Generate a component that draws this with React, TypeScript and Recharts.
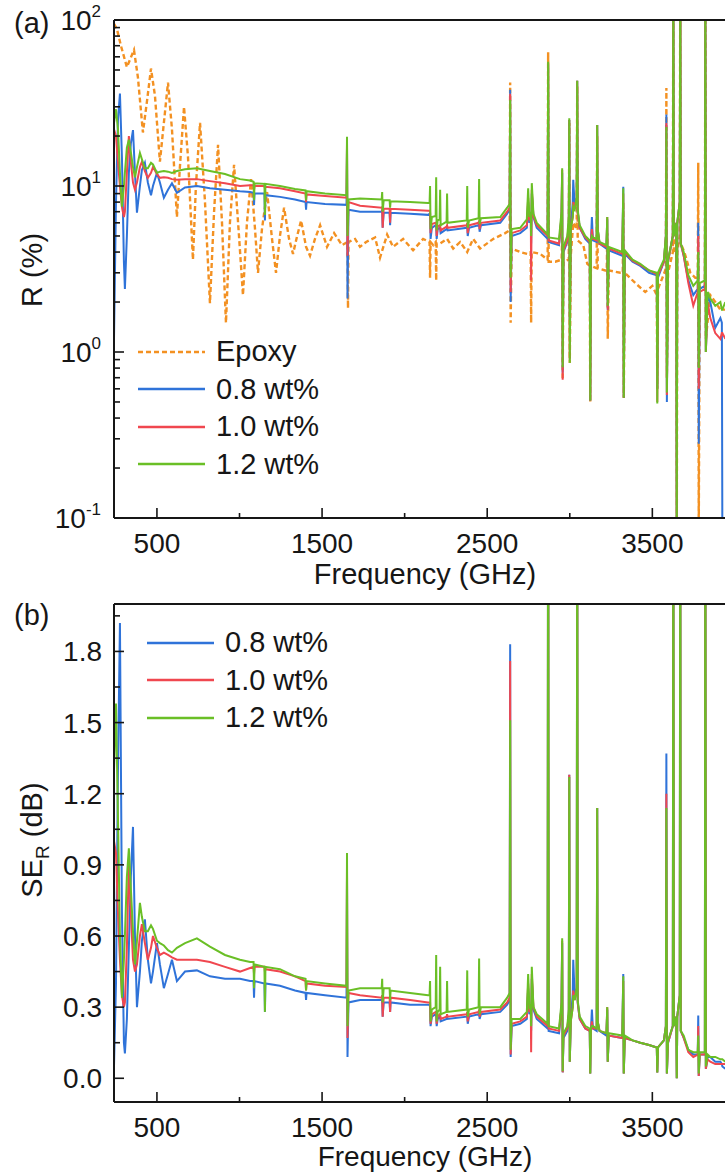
import { LineChart, Line, XAxis, YAxis, ReferenceLine, Legend } from 'recharts'

// Two stacked THz spectra: (a) reflectance R on a log axis, (b) SE_R in dB.
// The composites share one frequency grid,
// the epoxy trace has its own.

const INK = '#161616'
const FONT = '"Liberation Sans", Arial, Helvetica, sans-serif'
const ORANGE = '#f39122'
const BLUE = '#2f73d9'
const RED = '#f0474f'
const GREEN = '#6abf26'

const FREQ_DOMAIN: [number, number] = [240, 3940]
const freqTicks = [500, 1000, 1500, 2000, 2500, 3000, 3500]
const freqLabelled = [500, 1500, 2500, 3500]

const rTicks = [
  0.1, 0.2, 0.3, 0.4, 0.5, 0.6, 0.7, 0.8, 0.9,
  1, 2, 3, 4, 5, 6, 7, 8, 9,
  10, 20, 30, 40, 50, 60, 70, 80, 90, 100,
]
const rMajor = [0.1, 1, 10, 100]
const rExponents = ['-1', '0', '1', '2']

const seTicks = [0, 0.15, 0.3, 0.45, 0.6, 0.75, 0.9, 1.05, 1.2, 1.35, 1.5, 1.65, 1.8, 1.95]
const seMajor = [0, 0.3, 0.6, 0.9, 1.2, 1.5, 1.8]
const seLabels = ['0.0', '0.3', '0.6', '0.9', '1.2', '1.5', '1.8']

const seriesNames = ['Epoxy', '0.8 wt%', '1.0 wt%', '1.2 wt%']

// epoxy reflectance (%)
const epoxyFreq = [
  240, 258, 282, 318, 361, 385, 415, 439, 464, 488,
  518, 542, 567, 591, 621, 639, 664, 688, 718, 736,
  761, 791, 821, 846, 870, 894, 918, 942, 967, 997,
  1021, 1045, 1070, 1094, 1112, 1136, 1167, 1197, 1221, 1245,
  1270, 1300, 1324, 1349, 1373, 1403, 1427, 1457, 1488, 1530,
  1573, 1621, 1654, 1657, 1660, 1700, 1730, 1767, 1821, 1851,
  1894, 1930, 1991, 2051, 2112, 2151, 2154, 2157, 2173, 2188,
  2191, 2194, 2215, 2257, 2294, 2336, 2379, 2415, 2457, 2536,
  2609, 2636, 2639, 2642, 2648, 2700, 2742, 2763, 2766, 2769,
  2821, 2866, 2869, 2872, 2912, 2951, 2954, 2957, 2962, 2994,
  2997, 3000, 3006, 3021, 3042, 3045, 3048, 3082, 3106, 3121,
  3124, 3128, 3163, 3166, 3169, 3215, 3224, 3227, 3230, 3236,
  3306, 3321, 3324, 3327, 3333, 3397, 3457, 3500, 3527, 3530,
  3534, 3573, 3582, 3585, 3588, 3595, 3624, 3627, 3630, 3645,
  3648, 3651, 3666, 3669, 3672, 3694, 3730, 3760, 3775, 3778,
  3781, 3787, 3818, 3821, 3824, 3851, 3881, 3912, 3942,
]
const epoxyR = [
  95, 88, 70, 52, 66, 45, 21, 32, 51, 35,
  14, 24, 42, 22, 6.5, 13, 30, 15, 3.6, 10,
  24, 8, 1.97, 7, 17.7, 6, 1.5, 6, 13.4, 5,
  2.2, 6, 11, 5.5, 3.0, 5.5, 9.2, 4.8, 3.0, 5,
  7.4, 4.8, 3.9, 5, 6.2, 4.3, 3.8, 4.8, 5.8, 4.3,
  5.2, 4.4, 4.6, 1.84, 4.6, 4.8, 4.3, 4.6, 4.9, 3.7,
  5.1, 4.3, 4.8, 4.1, 4.8, 4.6, 2.8, 4.6, 4.4, 4.6,
  2.7, 4.5, 4.5, 4.8, 4.2, 4.6, 4.0, 4.8, 4.2, 4.8,
  5.2, 5.4, 42, 1.5, 4.2, 4.0, 3.9, 4.0, 1.5, 4.0,
  3.9, 3.6, 64, 3.5, 3.5, 3.6, 5, 0.68, 3.5, 3.6,
  24, 0.86, 3.8, 6, 5.5, 40, 4.7, 4.4, 3.4, 3.3,
  0.5, 3.3, 3.2, 20, 3.2, 3.1, 3.1, 5.2, 1.2, 3.1,
  3.0, 3.0, 8, 0.53, 3.0, 2.6, 2.3, 2.5, 2.2, 0.6,
  2.4, 3, 3.2, 39, 0.7, 3, 4, 150, 4, 4,
  0.08, 4, 5, 150, 4.5, 4.0, 3.0, 2.8, 2.8, 13.8,
  0.08, 2.5, 2.5, 110, 1.2, 2.2, 2.0, 1.8, 1.8,
]

// composite grid (GHz)
const compFreq = [
  240, 252, 264, 276, 288, 300, 306, 318, 330, 342,
  355, 367, 379, 397, 409, 427, 445, 464, 476, 500,
  518, 542, 567, 591, 621, 670, 742, 821, 912, 1003,
  1064, 1085, 1088, 1091, 1151, 1154, 1157, 1245, 1336, 1400,
  1403, 1406, 1518, 1648, 1651, 1654, 1660, 1730, 1861, 1864,
  1867, 1873, 1909, 1912, 1915, 2033, 2142, 2151, 2154, 2157,
  2165, 2188, 2191, 2194, 2200, 2212, 2215, 2218, 2254, 2257,
  2260, 2376, 2379, 2382, 2390, 2448, 2451, 2454, 2462, 2579,
  2621, 2636, 2639, 2642, 2648, 2700, 2740, 2748, 2755, 2764,
  2766, 2770, 2780, 2800, 2866, 2869, 2872, 2935, 2950, 2954,
  2957, 2962, 2985, 2994, 2997, 3000, 3006, 3018, 3021, 3030,
  3042, 3045, 3048, 3060, 3094, 3121, 3124, 3128, 3134, 3140,
  3163, 3166, 3169, 3180, 3222, 3227, 3230, 3236, 3318, 3324,
  3327, 3333, 3380, 3427, 3480, 3527, 3530, 3534, 3570, 3582,
  3585, 3588, 3595, 3624, 3627, 3630, 3645, 3648, 3651, 3666,
  3669, 3672, 3690, 3718, 3748, 3775, 3778, 3781, 3787, 3818,
  3821, 3824, 3835, 3851, 3881, 3912, 3921, 3924, 3942,
]

// R (%)
const r08 = [
  1.2, 8, 25, 36, 15, 3.5, 2.4, 5, 12, 18,
  21.7, 12, 6.9, 10, 12.5, 13.8, 10.5, 8.8, 10, 12,
  10.5, 8.5, 9.5, 10.4, 9.1, 9.8, 10, 9.7, 9.5, 9.3,
  9.2, 9.1, 7.7, 9.0, 9.0, 6.2, 8.8, 8.6, 8.3, 8.0,
  7.2, 8.0, 7.8, 7.7, 17, 2.1, 7.2, 7.0, 7.0, 7.2,
  5.6, 6.9, 6.9, 5.8, 6.9, 6.8, 6.7, 6.8, 6.8, 4.8,
  5.6, 5.8, 5.8, 4.8, 5.5, 5.6, 5.6, 5.2, 5.5, 5.6,
  5.4, 5.6, 5.8, 5.0, 5.6, 5.8, 6.0, 5.3, 5.8, 6.0,
  6.8, 7.2, 38, 2.0, 5.0, 5.2, 5.6, 8.0, 6.0, 6.5,
  4.5, 9.0, 6.5, 5.6, 4.8, 54, 4.6, 4.4, 6.5, 12,
  0.75, 4.0, 4.6, 6, 25, 1.56, 5.5, 8, 10.9, 7.5,
  8.5, 43, 7, 5.6, 4.8, 4.5, 0.51, 4.6, 6.5, 4.7,
  4.6, 23.3, 5.5, 4.5, 4.2, 6.3, 1.8, 4.1, 3.8, 9.9,
  0.53, 3.9, 3.5, 3.3, 3.0, 2.9, 0.6, 2.8, 3.5, 5,
  27, 0.5, 3.5, 5, 150, 5, 6, 0.08, 6, 8,
  150, 4.5, 3.8, 2.7, 2.2, 2.4, 6, 0.28, 2.4, 2.5,
  150, 1.0, 2.2, 2.0, 1.4, 1.6, 1.5, 0.08, 0.08,
]
const r10 = [
  22, 20, 14, 10, 7.5, 6.5, 7, 12, 20, 14,
  10.5, 9.5, 10.5, 13, 14, 12.3, 11.2, 12, 13, 11.8,
  11.2, 11.3, 11.2, 11.0, 10.9, 11.0, 11.0, 10.7, 10.4, 10.0,
  10.1, 10.1, 9.5, 10.0, 10.0, 9.7, 9.9, 9.7, 9.3, 9.0,
  8.0, 8.9, 8.7, 8.5, 18, 3.8, 8.0, 7.6, 7.4, 7.5,
  5.6, 7.3, 7.3, 6.0, 7.3, 7.2, 7.1, 7.1, 7.0, 5.2,
  5.9, 6.0, 6.0, 5.0, 5.7, 5.8, 5.8, 5.4, 5.7, 5.8,
  5.6, 5.8, 6.0, 5.2, 5.8, 6.0, 6.2, 5.5, 6.0, 6.2,
  7.0, 7.4, 36, 2.3, 5.2, 5.4, 5.8, 8.5, 6.2, 6.8,
  2.7, 9.5, 6.6, 5.8, 5.0, 55, 4.7, 4.5, 6.6, 12.5,
  0.68, 4.1, 4.7, 6, 25, 0.9, 5.5, 6.5, 8, 7.3,
  8.5, 43, 7, 5.6, 4.9, 4.6, 0.51, 4.6, 5.5, 4.8,
  4.7, 23.3, 5.5, 4.5, 4.3, 6.5, 1.8, 4.2, 3.9, 9.0,
  0.53, 4.0, 3.55, 3.35, 3.1, 2.95, 0.5, 2.9, 3.5, 5,
  24, 0.55, 3.5, 5, 150, 5, 6, 0.08, 6, 8,
  150, 4.5, 3.8, 2.6, 1.9, 2.3, 5, 0.6, 2.3, 2.4,
  150, 1.0, 2.0, 1.6, 1.3, 1.2, 1.3, 1.3, 1.2,
]
const r12 = [
  24, 29, 22, 12, 7.5, 10, 12, 17, 19, 16,
  13, 11.3, 13, 15.8, 14.5, 12.8, 12.8, 13.8, 13.5, 12,
  12.2, 12.3, 12.2, 12.0, 12.3, 12.6, 12.8, 12.3, 11.8, 11.0,
  10.8, 10.6, 8.2, 10.4, 10.3, 6.7, 10.3, 10.0, 9.6, 9.4,
  8.2, 9.3, 9.0, 8.8, 19.8, 5.0, 8.3, 8.4, 8.3, 9.2,
  7.0, 8.2, 8.2, 7.4, 8.1, 8.0, 7.9, 7.9, 10.0, 5.5,
  6.5, 6.6, 11.3, 5.4, 6.2, 6.3, 9.5, 5.8, 6.1, 9.0,
  6.0, 6.2, 10.0, 5.6, 6.2, 6.4, 11.0, 5.9, 6.4, 6.5,
  7.4, 7.8, 33, 2.8, 5.5, 5.6, 6.3, 9.7, 6.5, 7.0,
  5.0, 10.4, 6.8, 6.0, 5.1, 56, 4.9, 4.8, 7.0, 12.8,
  0.81, 4.3, 5.0, 6.5, 25.6, 0.86, 5.5, 6.5, 7.5, 7.2,
  8.5, 43, 7.2, 5.8, 5.0, 4.7, 0.51, 4.7, 5.0, 4.9,
  4.8, 23.3, 5.5, 4.6, 4.4, 6.5, 1.9, 4.3, 4.0, 9.7,
  0.53, 4.1, 3.6, 3.4, 3.1, 3.0, 0.49, 3.0, 3.6, 5,
  22.7, 0.57, 3.6, 5, 150, 5, 6, 0.08, 6, 8,
  150, 4.5, 4.0, 2.9, 2.5, 2.7, 4, 0.8, 2.6, 2.7,
  150, 1.0, 2.3, 2.1, 1.9, 2.0, 1.8, 1.8, 2.0,
]

// SE_R (dB)
const se08 = [
  0.05, 0.40, 1.30, 1.92, 0.70, 0.15, 0.105, 0.25, 0.55, 0.85,
  1.06, 0.60, 0.30, 0.45, 0.58, 0.67, 0.50, 0.40, 0.45, 0.57,
  0.48, 0.38, 0.44, 0.50, 0.41, 0.45, 0.455, 0.43, 0.42, 0.42,
  0.41, 0.41, 0.34, 0.41, 0.40, 0.28, 0.40, 0.39, 0.37, 0.36,
  0.33, 0.36, 0.35, 0.34, 0.85, 0.09, 0.32, 0.33, 0.33, 0.33,
  0.26, 0.32, 0.32, 0.28, 0.32, 0.31, 0.31, 0.31, 0.30, 0.22,
  0.26, 0.27, 0.27, 0.22, 0.25, 0.26, 0.26, 0.24, 0.25, 0.26,
  0.25, 0.26, 0.27, 0.23, 0.26, 0.27, 0.28, 0.25, 0.27, 0.28,
  0.31, 0.33, 1.83, 0.09, 0.22, 0.23, 0.25, 0.38, 0.27, 0.29,
  0.20, 0.42, 0.29, 0.25, 0.21, 3, 0.20, 0.19, 0.30, 0.57,
  0.025, 0.17, 0.20, 0.27, 1.28, 0.07, 0.24, 0.36, 0.50, 0.34,
  0.38, 2.5, 0.32, 0.25, 0.21, 0.20, 0.02, 0.20, 0.29, 0.21,
  0.20, 1.14, 0.24, 0.20, 0.18, 0.29, 0.07, 0.18, 0.17, 0.44,
  0.02, 0.17, 0.16, 0.15, 0.14, 0.13, 0.025, 0.13, 0.16, 0.22,
  1.37, 0.02, 0.15, 0.22, 2.6, 0.22, 0.26, 0.0, 0.26, 0.35,
  2.6, 0.2, 0.17, 0.12, 0.10, 0.10, 0.265, 0.01, 0.10, 0.10,
  2.6, 0.04, 0.09, 0.09, 0.07, 0.07, 0.06, 0.05, 0.04,
]
const se10 = [
  1.0, 0.95, 0.70, 0.50, 0.35, 0.30, 0.32, 0.55, 0.92, 0.70,
  0.50, 0.45, 0.48, 0.60, 0.65, 0.57, 0.50, 0.55, 0.60, 0.55,
  0.52, 0.53, 0.52, 0.51, 0.50, 0.50, 0.50, 0.49, 0.47, 0.45,
  0.465, 0.47, 0.44, 0.47, 0.47, 0.45, 0.46, 0.45, 0.43, 0.41,
  0.37, 0.40, 0.39, 0.385, 0.90, 0.17, 0.36, 0.35, 0.34, 0.35,
  0.26, 0.34, 0.34, 0.28, 0.34, 0.33, 0.32, 0.32, 0.32, 0.23,
  0.27, 0.28, 0.28, 0.23, 0.26, 0.27, 0.27, 0.25, 0.26, 0.27,
  0.26, 0.27, 0.28, 0.24, 0.27, 0.28, 0.29, 0.26, 0.28, 0.29,
  0.32, 0.34, 1.76, 0.10, 0.23, 0.24, 0.26, 0.40, 0.28, 0.30,
  0.11, 0.44, 0.30, 0.26, 0.22, 3, 0.21, 0.20, 0.30, 0.58,
  0.025, 0.18, 0.21, 0.27, 1.28, 0.07, 0.24, 0.30, 0.37, 0.33,
  0.38, 2.5, 0.32, 0.25, 0.21, 0.20, 0.02, 0.20, 0.24, 0.21,
  0.21, 1.14, 0.24, 0.20, 0.19, 0.30, 0.07, 0.18, 0.17, 0.41,
  0.02, 0.17, 0.16, 0.15, 0.14, 0.13, 0.025, 0.13, 0.16, 0.22,
  1.2, 0.02, 0.15, 0.22, 2.6, 0.22, 0.26, 0.0, 0.26, 0.35,
  2.6, 0.2, 0.17, 0.11, 0.09, 0.10, 0.22, 0.01, 0.10, 0.10,
  2.6, 0.04, 0.08, 0.07, 0.06, 0.06, 0.06, 0.06, 0.06,
]
const se12 = [
  1.3, 1.58, 1.10, 0.60, 0.34, 0.50, 0.60, 0.85, 0.97, 0.80,
  0.62, 0.48, 0.58, 0.74, 0.68, 0.62, 0.62, 0.645, 0.63, 0.58,
  0.57, 0.56, 0.54, 0.53, 0.55, 0.57, 0.59, 0.555, 0.52, 0.50,
  0.49, 0.49, 0.38, 0.48, 0.47, 0.28, 0.47, 0.46, 0.43, 0.42,
  0.37, 0.41, 0.40, 0.39, 0.95, 0.22, 0.37, 0.38, 0.38, 0.42,
  0.32, 0.38, 0.38, 0.33, 0.37, 0.36, 0.35, 0.35, 0.41, 0.24,
  0.29, 0.30, 0.52, 0.24, 0.28, 0.29, 0.47, 0.27, 0.28, 0.41,
  0.28, 0.29, 0.455, 0.26, 0.29, 0.30, 0.505, 0.27, 0.30, 0.30,
  0.34, 0.36, 1.51, 0.12, 0.25, 0.25, 0.28, 0.44, 0.30, 0.31,
  0.22, 0.47, 0.30, 0.27, 0.23, 3, 0.22, 0.21, 0.32, 0.59,
  0.03, 0.19, 0.22, 0.29, 1.27, 0.07, 0.24, 0.30, 0.35, 0.33,
  0.38, 2.5, 0.33, 0.26, 0.22, 0.21, 0.02, 0.21, 0.22, 0.22,
  0.21, 1.14, 0.24, 0.20, 0.19, 0.30, 0.07, 0.19, 0.18, 0.43,
  0.02, 0.18, 0.16, 0.15, 0.14, 0.13, 0.025, 0.13, 0.16, 0.22,
  1.14, 0.02, 0.16, 0.22, 2.6, 0.22, 0.26, 0.0, 0.26, 0.35,
  2.6, 0.2, 0.18, 0.12, 0.11, 0.11, 0.18, 0.02, 0.11, 0.11,
  2.6, 0.05, 0.10, 0.09, 0.09, 0.08, 0.08, 0.08, 0.07,
]

const epoxyRows = epoxyFreq.map((f, i) => ({ f, r: epoxyR[i] }))
const compRows = compFreq.map((f, i) => ({
  f,
  r08: r08[i],
  r10: r10[i],
  r12: r12[i],
  se08: se08[i],
  se10: se10[i],
  se12: se12[i],
}))

const legendA = [
  { name: seriesNames[0], color: ORANGE, dash: '5 3' },
  { name: seriesNames[1], color: BLUE },
  { name: seriesNames[2], color: RED },
  { name: seriesNames[3], color: GREEN },
]
const legendB = legendA.slice(1)

function FreqTick(props: any) {
  const { x, y, payload } = props
  const major = freqLabelled.includes(payload.value)
  return (
    <g>
      <line x1={x} x2={x} y1={y} y2={y - (major ? 10 : 5)} stroke={INK} strokeWidth={1.6} />
      {major && (
        <text x={x} y={y + 35} textAnchor="middle" fontSize={28} fontFamily={FONT} fill={INK}>
          {payload.value}
        </text>
      )}
    </g>
  )
}

function RTick(props: any) {
  const { x, y, payload } = props
  const i = rMajor.findIndex((m) => Math.abs(m - payload.value) < 1e-9)
  const major = i >= 0
  return (
    <g>
      <line x1={x} x2={x + (major ? 10 : 6)} y1={y} y2={y} stroke={INK} strokeWidth={1.6} />
      {major && (
        <text x={x - 13} y={y + 10} textAnchor="end" fontSize={28} fontFamily={FONT} fill={INK}>
          10
          <tspan dy={-13} fontSize={17}>
            {rExponents[i]}
          </tspan>
        </text>
      )}
    </g>
  )
}

function SETick(props: any) {
  const { x, y, payload } = props
  const i = seMajor.findIndex((m) => Math.abs(m - payload.value) < 1e-9)
  const major = i >= 0
  return (
    <g>
      <line x1={x} x2={x + (major ? 10 : 6)} y1={y} y2={y} stroke={INK} strokeWidth={1.6} />
      {major && (
        <text x={x - 12} y={y + 10} textAnchor="end" fontSize={28} fontFamily={FONT} fill={INK}>
          {seLabels[i]}
        </text>
      )}
    </g>
  )
}

function makeLegend(items: { name: string; color: string; dash?: string }[]) {
  return () => (
    <div style={{ fontFamily: FONT, fontSize: 29, color: INK }}>
      {items.map((it) => (
        <div key={it.name} style={{ display: 'flex', alignItems: 'center', height: 37.5 }}>
          <svg width={67} height={6} style={{ marginRight: 11 }}>
            <line x1={0} x2={67} y1={3} y2={3} stroke={it.color} strokeWidth={2.4} strokeDasharray={it.dash} />
          </svg>
          <span style={{ lineHeight: '37.5px', whiteSpace: 'nowrap' }}>{it.name}</span>
        </div>
      ))}
    </div>
  )
}

const axisLine = { stroke: INK, strokeWidth: 2 }

export default function App() {
  return (
    <div
      style={{
        position: 'absolute',
        left: 0,
        top: 0,
        width: 725,
        height: 1172,
        background: '#fff',
        overflow: 'hidden',
      }}
    >
      {/* (a) reflectance */}
      <div style={{ position: 'absolute', left: 0, top: 0 }}>
        <LineChart width={725} height={580} data={compRows} margin={{ top: 20, right: 0, bottom: 0, left: 0 }}>
          <XAxis
            dataKey="f"
            type="number"
            domain={FREQ_DOMAIN}
            allowDataOverflow
            ticks={freqTicks}
            interval={0}
            tick={(p: any) => <FreqTick {...p} />}
            tickLine={false}
            tickSize={0}
            tickMargin={0}
            height={62}
            axisLine={axisLine}
          />
          <YAxis
            type="number"
            scale="log"
            domain={[0.1, 100]}
            allowDataOverflow
            ticks={rTicks}
            interval={0}
            tick={(p: any) => <RTick {...p} />}
            tickLine={false}
            tickSize={0}
            tickMargin={0}
            width={114}
            axisLine={axisLine}
          />
          <Line data={epoxyRows} dataKey="r" name="Epoxy" stroke={ORANGE} strokeWidth={2.4} strokeDasharray="5 3" dot={false} isAnimationActive={false} />
          <Line dataKey="r08" name="0.8 wt%" stroke={BLUE} strokeWidth={2} dot={false} isAnimationActive={false} />
          <Line dataKey="r10" name="1.0 wt%" stroke={RED} strokeWidth={2} dot={false} isAnimationActive={false} />
          <Line dataKey="r12" name="1.2 wt%" stroke={GREEN} strokeWidth={2} dot={false} isAnimationActive={false} />
          <ReferenceLine y={100} stroke={INK} strokeWidth={2} />
          <Legend
            layout="horizontal"
            verticalAlign="middle"
            align="center"
            content={makeLegend(legendA)}
            wrapperStyle={{ left: 138, top: 333, width: 'auto', height: 'auto' }}
          />
        </LineChart>
      </div>

      {/* (b) shielding by reflection */}
      <div style={{ position: 'absolute', left: 0, top: 584 }}>
        <LineChart width={725} height={580} data={compRows} margin={{ top: 20, right: 0, bottom: 0, left: 0 }}>
          <XAxis
            dataKey="f"
            type="number"
            domain={FREQ_DOMAIN}
            allowDataOverflow
            ticks={freqTicks}
            interval={0}
            tick={(p: any) => <FreqTick {...p} />}
            tickLine={false}
            tickSize={0}
            tickMargin={0}
            height={62}
            axisLine={axisLine}
          />
          <YAxis
            type="number"
            domain={[-0.1, 2.0]}
            allowDataOverflow
            ticks={seTicks}
            interval={0}
            tick={(p: any) => <SETick {...p} />}
            tickLine={false}
            tickSize={0}
            tickMargin={0}
            width={114}
            axisLine={axisLine}
          />
          <Line dataKey="se08" name="0.8 wt%" stroke={BLUE} strokeWidth={2} dot={false} isAnimationActive={false} />
          <Line dataKey="se10" name="1.0 wt%" stroke={RED} strokeWidth={2} dot={false} isAnimationActive={false} />
          <Line dataKey="se12" name="1.2 wt%" stroke={GREEN} strokeWidth={2} dot={false} isAnimationActive={false} />
          <ReferenceLine y={2.0} stroke={INK} strokeWidth={2} />
          <Legend
            layout="horizontal"
            verticalAlign="middle"
            align="center"
            content={makeLegend(legendB)}
            wrapperStyle={{ left: 147, top: 40, width: 'auto', height: 'auto' }}
          />
        </LineChart>
      </div>

      {/* panel letters and axis titles */}
      <svg
        width={725}
        height={1172}
        style={{ position: 'absolute', left: 0, top: 0, pointerEvents: 'none' }}
        fontFamily={FONT}
        fill={INK}
      >
        <text x={14} y={33} fontSize={29}>(a)</text>
        <text x={14} y={625} fontSize={29}>(b)</text>
        <text x={425} y={584} fontSize={29} textAnchor="middle">Frequency (GHz)</text>
        <text x={425} y={1166} fontSize={28} textAnchor="middle">Frequency (GHz)</text>
        <text x={42} y={270} fontSize={29} textAnchor="middle" transform="rotate(-90 42 270)">R (%)</text>
        <text x={42} y={840} fontSize={29} textAnchor="middle" transform="rotate(-90 42 840)">
          SE
          <tspan dy={7} fontSize={19}>R</tspan>
          <tspan dy={-7}> (dB)</tspan>
        </text>
      </svg>
    </div>
  )
}
